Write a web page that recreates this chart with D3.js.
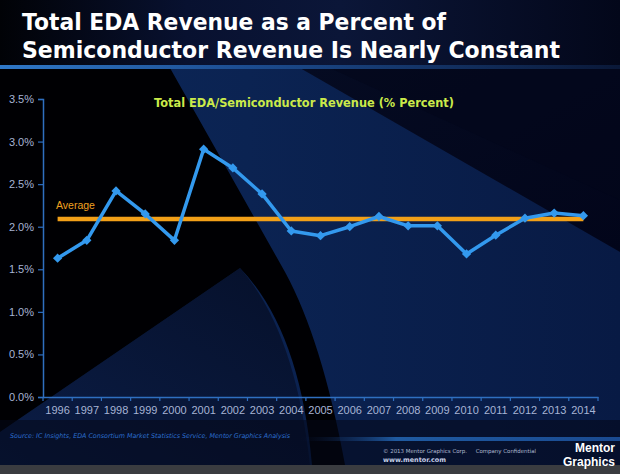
<!DOCTYPE html>
<html><head><meta charset="utf-8">
<script src="https://cdn.jsdelivr.net/npm/d3@7"></script>
<style>html,body{margin:0;padding:0;background:#000;}svg{display:block;}</style>
</head><body>
<script>
const years = ["1996","1997","1998","1999","2000","2001","2002","2003","2004","2005","2006","2007","2008","2009","2010","2011","2012","2013","2014"];
const edaPct = [1.63,1.84,2.42,2.15,1.84,2.91,2.69,2.385,1.95,1.895,2.00,2.12,2.01,2.01,1.68,1.90,2.10,2.16,2.13];
const averagePct = 2.09;
const yTicks = [0,0.5,1.0,1.5,2.0,2.5,3.0,3.5];
const titleLines = ["Total EDA Revenue as a Percent of","Semiconductor Revenue Is Nearly Constant"];
const seriesTitle = "Total EDA/Semiconductor Revenue (% Percent)";
const avgLabel = "Average";
const sourceText = "Source:  IC Insights, EDA Consortium Market Statistics Service, Mentor Graphics Analysis";
const copyText = "© 2013 Mentor Graphics Corp.     Company Confidential";
const urlText = "www.mentor.com";

const W=620,H=474;
const svg=d3.select("body").append("svg").attr("width",W).attr("height",H);
const defs=svg.append("defs");
function lg(id,x1,y1,x2,y2,stops){const g=defs.append("linearGradient").attr("id",id).attr("x1",x1).attr("y1",y1).attr("x2",x2).attr("y2",y2);stops.forEach(s=>g.append("stop").attr("offset",s[0]).attr("stop-color",s[1]).attr("stop-opacity",s[2]==null?1:s[2]));}
lg("gTop","0","0","1","0",[[0,"#010206"],[0.3,"#081130"],[0.55,"#0b1638"],[1,"#03071a"]]);
lg("gStripe","0","0","1","0",[[0,"#2f78c8"],[0.4,"#1c4c90"],[1,"#0a1838"]]);
lg("gBody","0","0","1","0",[[0,"#0c2758"],[0.4,"#0b2352"],[1,"#081a44"]]);
lg("gLowLeft","0","1","1","0",[[0,"#0b1d46"],[1,"#06102a"]]);
lg("gBand","0","0","1","0",[[0,"#0a1a40",0],[0.3,"#1f5aa0"],[1,"#1a4a90"]]);
lg("gDark","0","0","1","1",[[0,"#050b22"],[1,"#02051a"]]);

// background
svg.append("rect").attr("width",W).attr("height",H).attr("fill","url(#gBody)");
svg.append("path").attr("d","M300,68 L620,68 L620,252 Z").attr("fill","url(#gDark)");
svg.append("path").attr("d","M330,68 L620,68 L620,200 Z").attr("fill","#03061a").attr("opacity",0.6);
svg.append("path").attr("d","M0,432 L240,268 Q295,330 310,465 L0,465 Z").attr("fill","url(#gLowLeft)");
svg.append("path").attr("d","M0,68 L170,68 L285,272 Q322,340 345,465 L312,465 Q300,330 240,268 L0,432 Z").attr("fill","#000003");
svg.append("rect").attr("x",0).attr("y",0).attr("width",W).attr("height",66).attr("fill","url(#gTop)");
svg.append("rect").attr("x",0).attr("y",65).attr("width",W).attr("height",4).attr("fill","url(#gStripe)");
svg.append("rect").attr("x",0).attr("y",420).attr("width",W).attr("height",45).attr("fill","#030818").attr("opacity",0.55);
svg.append("rect").attr("x",300).attr("y",437).attr("width",320).attr("height",4).attr("fill","url(#gBand)");
svg.append("rect").attr("x",0).attr("y",465).attr("width",W).attr("height",9).attr("fill","#3a3c40");

// title
titleLines.forEach((t,i)=>{
  svg.append("text").attr("x",22).attr("y",30+i*27.5).text(t)
    .attr("font-family","'DejaVu Sans',Verdana,sans-serif").attr("font-weight","bold").attr("font-size",23)
    .attr("fill","#ffffff").attr("textLength",i===0?424:538).attr("lengthAdjust","spacingAndGlyphs");
});

// scales
const x=d3.scaleBand().domain(years).range([43,598]).padding(0);
const y=d3.scaleLinear().domain([0,3.5]).range([397,99]);

// axes
const yAxis=svg.append("g").attr("transform","translate(43,0)")
  .call(d3.axisLeft(y).tickValues(yTicks).tickFormat(d=>d.toFixed(1)+"%").tickSize(5).tickPadding(4));
const xAxis=svg.append("g").attr("transform","translate(0,397)")
  .call(d3.axisBottom(x).tickSize(0).tickPadding(9));
[yAxis,xAxis].forEach(g=>{
  g.selectAll(".domain").attr("stroke","#2f6fc0").attr("stroke-width",1.5);
  g.selectAll("line").attr("stroke","#2f6fc0").attr("stroke-width",1.2);
  g.selectAll("text").attr("fill","#a7b4d4").attr("font-family","'Liberation Sans',Arial,sans-serif").attr("font-size",11);
});
xAxis.selectAll("text").attr("dy","0.71em");
xAxis.selectAll(".sep").data(years.concat(["end"])).enter().append("line")
  .attr("x1",(d,i)=>43+i*x.step()).attr("x2",(d,i)=>43+i*x.step()).attr("y1",0).attr("y2",4)
  .attr("stroke","#2f6fc0").attr("stroke-width",1.2);

// series title
svg.append("text").attr("x",154).attr("y",107).text(seriesTitle)
  .attr("font-family","'DejaVu Sans',Verdana,sans-serif").attr("font-weight","bold").attr("font-size",11.5)
  .attr("fill","#cbea4a").attr("textLength",300).attr("lengthAdjust","spacingAndGlyphs");

// average line
const cx=d=>x(d)+x.bandwidth()/2;
svg.append("line").attr("x1",cx(years[0])).attr("x2",cx(years[years.length-1]))
  .attr("y1",y(averagePct)).attr("y2",y(averagePct)).attr("stroke","#f2a018").attr("stroke-width",4.5);
svg.append("text").attr("x",56).attr("y",209).text(avgLabel)
  .attr("font-family","'Liberation Sans',Arial,sans-serif").attr("font-size",10.5).attr("fill","#f0a020");

// series line
const data=years.map((yr,i)=>({yr,v:edaPct[i]}));
svg.append("path").datum(data).attr("fill","none").attr("stroke","#3399ee").attr("stroke-width",3.5)
  .attr("stroke-linejoin","round")
  .attr("d",d3.line().x(d=>cx(d.yr)).y(d=>y(d.v)));
svg.append("g").selectAll("path").data(data).enter().append("path")
  .attr("d",d3.symbol().type(d3.symbolDiamond2).size(55))
  .attr("transform",d=>`translate(${cx(d.yr)},${y(d.v)})`)
  .attr("fill","#3399ee");

// footer
svg.append("text").attr("x",10).attr("y",438).text(sourceText)
  .attr("font-family","'DejaVu Sans',Verdana,sans-serif").attr("font-style","italic").attr("font-size",6.5)
  .attr("fill","#2c6fd0").attr("textLength",280).attr("lengthAdjust","spacingAndGlyphs");
svg.append("text").attr("x",383).attr("y",453).text(copyText)
  .attr("font-family","'DejaVu Sans',Verdana,sans-serif").attr("font-size",5.5).attr("xml:space","preserve")
  .attr("fill","#b0b8d0").attr("textLength",153).attr("lengthAdjust","spacingAndGlyphs");
svg.append("text").attr("x",383).attr("y",462).text(urlText)
  .attr("font-family","'DejaVu Sans',Verdana,sans-serif").attr("font-weight","bold").attr("font-size",6.5)
  .attr("fill","#c8d0e8").attr("textLength",63).attr("lengthAdjust","spacingAndGlyphs");
svg.append("text").attr("x",615).attr("y",452).attr("text-anchor","end").text("Mentor")
  .attr("font-family","'Liberation Sans',Arial,sans-serif").attr("font-weight","bold").attr("font-size",12)
  .attr("fill","#ffffff");
svg.append("text").attr("x",615).attr("y",466).attr("text-anchor","end").text("Graphics")
  .attr("font-family","'Liberation Sans',Arial,sans-serif").attr("font-weight","bold").attr("font-size",12)
  .attr("fill","#ffffff");
</script>
</body></html>
